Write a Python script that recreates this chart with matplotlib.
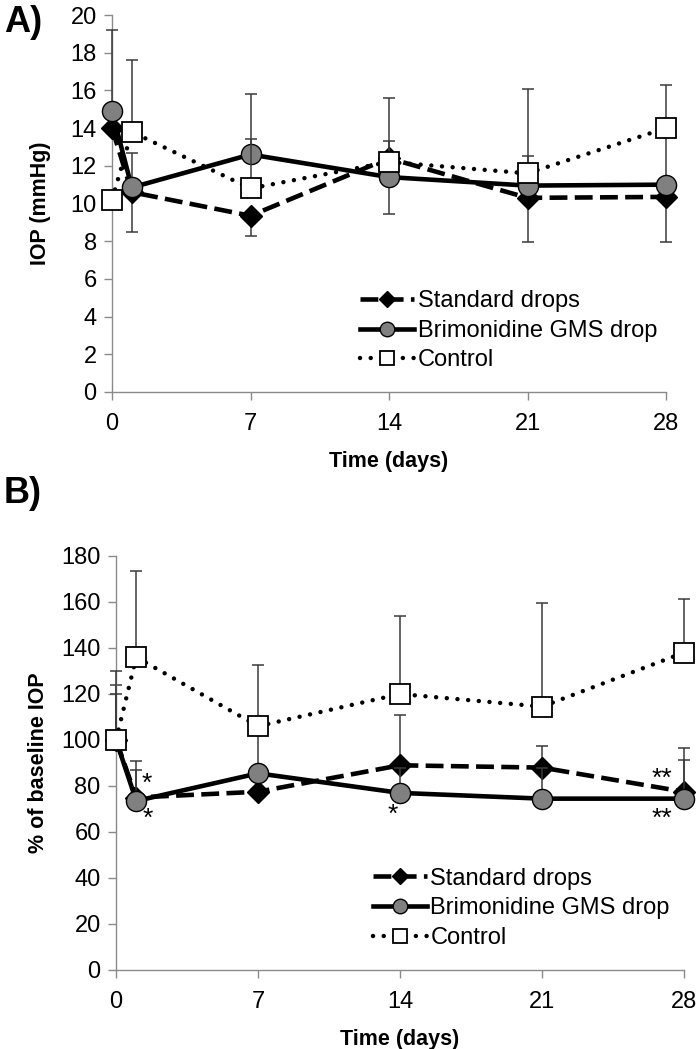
import matplotlib
matplotlib.use("Agg")
import matplotlib.pyplot as plt
from matplotlib.lines import Line2D

plt.rcParams['font.family'] = ['Liberation Sans', 'DejaVu Sans']

# ---- data ----
days = [0, 1, 7, 14, 21, 28]
labels = ["Standard drops", "Brimonidine GMS drop", "Control"]

# A) absolute IOP, mmHg
std_iop = [14.0, 10.6, 9.35, 12.4, 10.3, 10.35]
gms_iop = [14.9, 10.85, 12.6, 11.4, 10.95, 11.0]
ctrl_iop = [10.2, 13.8, 10.8, 12.2, 11.6, 14.0]
# error bar ends (low, high) for panel A
std_iop_lo = [14.0, 8.5, 8.28, 9.43, 7.97, 7.97]
std_iop_hi = [14.0, 10.6, 9.35, 12.4, 10.3, 10.35]
gms_iop_lo = [14.9, 10.85, 12.6, 11.4, 10.95, 11.0]
gms_iop_hi = [19.2, 12.7, 13.4, 13.3, 12.5, 13.6]
ctrl_iop_lo = [10.2, 13.8, 10.8, 12.2, 11.6, 14.0]
ctrl_iop_hi = [10.2, 17.6, 15.8, 15.6, 16.1, 16.3]

# B) % of baseline IOP
std_pct = [100, 75, 77.5, 89, 88, 77.5]
gms_pct = [100, 73.5, 85.5, 77, 74.5, 74.5]
ctrl_pct = [100, 136, 106, 120, 114.5, 138]
std_pct_hi = [124, 91, 84, 111, 97.4, 96.5]
gms_pct_hi = [120, 87, 105, 88, 88, 91.3]
ctrl_pct_hi = [130, 173.5, 132.5, 154, 159.5, 161.5]

# significance marks: (day, value, text)
stars = [(1.5, 81.0, "*"), (1.55, 65.5, "*"), (13.65, 67.5, "*"),
         (26.9, 83.0, "**"), (26.9, 65.5, "**")]

ERR_COL = "#3a3a3a"
AX_COL = "#8a8a8a"

styles = [
    dict(color="black", lw=3.3, ls=(0, (3.9, 1.6)), marker="D", ms=11,
         mfc="black", mec="black", mew=1),
    dict(color="black", lw=3.3, ls="-", marker="o", ms=14.5,
         mfc="#808080", mec="black", mew=1),
    dict(color="black", lw=3.2, ls=(0, (0.01, 2.4)), marker="s", ms=14.5,
         mfc="white", mec="black", mew=1.3, dash_capstyle="round"),
]


def draw_series(ax, y, lo, hi, st, z):
    yerr = [[v - l for v, l in zip(y, lo)], [h - v for v, h in zip(y, hi)]]
    ax.errorbar(days, y, yerr=yerr, fmt="none", ecolor=ERR_COL,
                elinewidth=1.1, capsize=4, capthick=1.1, zorder=z)
    ax.plot(days, y, zorder=z + 1, **st)


def style_axis(ax, ylim, yticks, ylabel, ypad):
    ax.set_xlim(0, 28)
    ax.set_ylim(*ylim)
    ax.set_xticks([0, 7, 14, 21, 28])
    ax.set_yticks(yticks)
    for s in ["top", "right"]:
        ax.spines[s].set_visible(False)
    for s in ["left", "bottom"]:
        ax.spines[s].set_color(AX_COL)
        ax.spines[s].set_linewidth(1.0)
    ax.tick_params(axis="both", colors=AX_COL, length=6, width=1.0,
                   labelsize=17, labelcolor="black", pad=5)
    ax.tick_params(axis="x", pad=9)
    ax.set_xlabel("Time (days)", fontsize=15.5, fontweight="bold", labelpad=12)
    ax.set_ylabel(ylabel, fontsize=15.5, fontweight="bold", labelpad=ypad)
    for sp in ax.spines.values():
        sp.set_clip_on(False)


def add_legend(ax, anchor):
    handles = [Line2D([], [], **dict(st, ms=st["ms"] * 0.72)) for st in styles]
    ax.legend(handles, labels, loc="upper left", bbox_to_anchor=anchor,
              frameon=False, fontsize=17, handlelength=2.3,
              handletextpad=0.15, labelspacing=0.32, borderaxespad=0)


fig = plt.figure(figsize=(7, 10.49), dpi=100)
W, H = 700, 1049
axA = fig.add_axes([112 / W, 1 - 392 / H, (666 - 112) / W, (392 - 15) / H])
axB = fig.add_axes([116 / W, 1 - 970 / H, (684 - 116) / W, (970 - 556) / H])

# panel A
draw_series(axA, std_iop, std_iop_lo, std_iop_hi, styles[0], 2)
draw_series(axA, gms_iop, gms_iop_lo, gms_iop_hi, styles[1], 4)
draw_series(axA, ctrl_iop, ctrl_iop_lo, ctrl_iop_hi, styles[2], 6)
style_axis(axA, (0, 20), range(0, 21, 2), "IOP (mmHg)", 14)
add_legend(axA, (0.43, 0.295))

# panel B
draw_series(axB, std_pct, std_pct, std_pct_hi, styles[0], 2)
draw_series(axB, gms_pct, gms_pct, gms_pct_hi, styles[1], 4)
draw_series(axB, ctrl_pct, ctrl_pct, ctrl_pct_hi, styles[2], 6)
style_axis(axB, (0, 180), range(0, 181, 20), "% of baseline IOP", 9)
add_legend(axB, (0.435, 0.27))
for d, v, t in stars:
    axB.text(d, v, t, fontsize=19, ha="center", va="center", zorder=10)

fig.text(4 / W, 1 - 22 / H, "A)", fontsize=26, fontweight="bold",
         ha="left", va="center")
fig.text(4 / W, 1 - 494 / H, "B)", fontsize=26, fontweight="bold",
         ha="left", va="center")

for ax in (axA, axB):
    for ln in ax.get_lines():
        ln.set_clip_on(False)
    for c in ax.collections:
        c.set_clip_on(False)

fig.savefig("out.png", dpi=100)
